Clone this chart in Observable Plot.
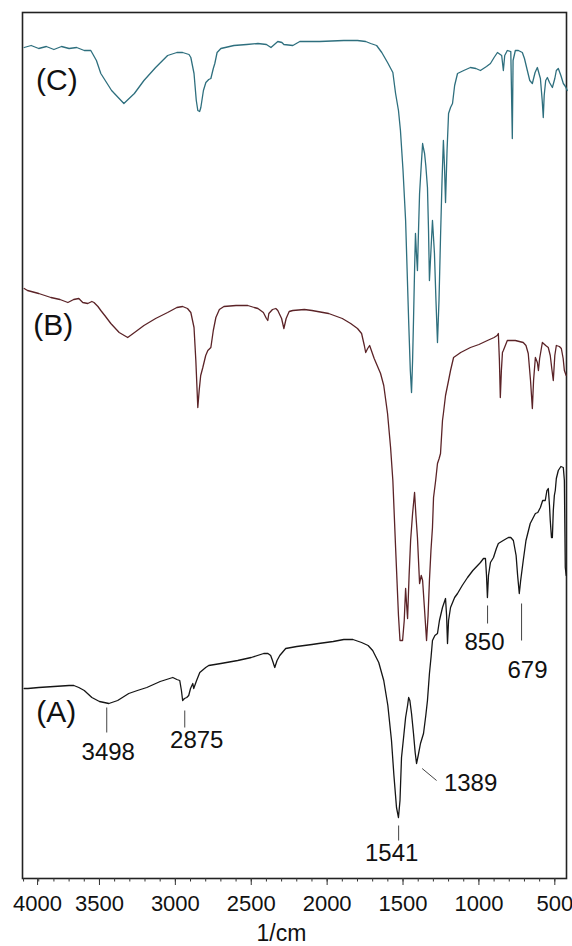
<!DOCTYPE html>
<html><head><meta charset="utf-8">
<script src="https://cdn.jsdelivr.net/npm/d3@7"></script>
<script src="https://cdn.jsdelivr.net/npm/@observablehq/plot@0.6"></script>
<style>body{margin:0;background:#fff;} #chart svg{display:block}</style>
</head><body><div id="chart"></div><script>
// Wavenumbers (1/cm) and relative transmittance (arbitrary units)
const cWn = [3996,3950,3900,3850,3800,3750,3700,3650,3600,3557,3520,3491,3420,3339,3270,3207,3130,3051,2990,2952,2910,2898,2877,2862,2852,2840,2832,2815,2799,2780,2766,2750,2740,2725,2700,2614,2530,2456,2400,2380,2370,2340,2325,2298,2285,2226,2180,2050,1890,1800,1746,1713,1674,1640,1602,1567,1549,1530,1517,1500,1483,1463,1452,1444,1437,1431,1424,1418,1411,1405,1398,1391,1380,1371,1365,1358,1350,1339,1332,1326,1316,1306,1300,1293,1283,1273,1263,1253,1243,1234,1227,1220,1210,1200,1187,1174,1160,1141,1100,1056,1020,990,950,924,900,878,850,839,830,813,790,780,775,760,740,714,700,681,665,648,630,615,595,583,576,570,560,549,535,516,500,490,477,460,444,430,418];
const cT  = [831,833,830,832,829,832,830,831,828,828,818,805,788,775,785,798,811,823,826,826,824,821,805,778,768,767,771,788,796,799,800,810,815,826,830,833,834,835,834,832,831,835,837,836,834,833,837,837,838,838,837,835,833,826,816,806,785,768,748,708,658,558,508,486,518,558,608,645,623,608,648,685,713,735,730,725,713,691,648,598,628,658,643,625,578,536,578,641,698,738,713,676,728,765,771,775,793,805,808,811,810,808,812,815,821,826,823,808,823,828,827,740,818,828,828,826,820,808,798,795,806,811,800,778,761,783,798,801,796,791,800,808,810,803,795,792,788];

const bWn = [3996,3974,3900,3820,3760,3708,3670,3636,3610,3577,3550,3536,3510,3491,3460,3425,3370,3314,3260,3207,3130,3051,2990,2952,2920,2898,2877,2865,2852,2843,2833,2819,2800,2786,2766,2750,2733,2710,2680,2600,2523,2480,2456,2420,2400,2391,2384,2360,2338,2325,2300,2285,2270,2250,2226,2150,2100,1990,1900,1845,1800,1773,1755,1746,1733,1720,1690,1648,1627,1602,1582,1567,1549,1530,1520,1510,1503,1492,1483,1476,1470,1460,1450,1437,1424,1415,1405,1391,1380,1371,1360,1345,1335,1326,1316,1306,1299,1285,1273,1262,1253,1240,1234,1220,1200,1187,1167,1120,1056,1000,944,900,880,872,865,859,852,845,839,813,760,708,690,675,660,648,640,628,615,608,600,582,560,543,530,520,510,500,490,470,457,445,437,425];
const bT  = [590,588,585,581,579,576,579,580,576,575,577,576,572,568,562,555,546,541,547,553,560,566,571,572,570,566,551,518,471,488,503,511,523,528,531,548,561,569,572,573,573,571,570,566,560,558,565,569,570,568,560,550,560,567,568,569,568,565,560,555,550,545,533,526,530,533,520,505,493,465,431,398,331,263,238,238,238,258,290,273,260,303,338,365,386,363,341,295,303,298,273,238,263,298,328,351,381,398,415,420,425,458,465,483,498,508,521,526,531,534,538,541,543,545,518,481,508,526,528,538,538,536,533,525,498,470,498,521,516,508,520,536,533,531,523,510,498,523,533,532,530,520,508,503];

const aWn = [3996,3971,3900,3800,3700,3669,3636,3600,3550,3500,3438,3380,3307,3250,3188,3100,3017,2990,2971,2960,2952,2940,2925,2912,2900,2885,2879,2860,2839,2800,2780,2700,2589,2500,2418,2390,2372,2360,2345,2330,2312,2273,2200,2100,2056,1960,1890,1830,1773,1730,1700,1660,1627,1600,1576,1560,1543,1530,1520,1510,1495,1483,1470,1463,1455,1444,1431,1420,1411,1400,1385,1375,1365,1350,1339,1326,1315,1306,1290,1273,1260,1240,1220,1213,1207,1200,1187,1160,1141,1110,1075,1040,990,970,957,950,944,937,924,904,885,872,840,806,790,773,755,745,734,725,708,690,662,645,628,612,595,580,563,552,543,535,530,522,516,510,503,497,490,477,460,444,437,431,425];
const aT  = [190,190,191,192,193,193,191,188,181,177,175,178,185,188,191,197,201,199,198,188,178,180,181,183,190,195,190,198,206,211,213,215,218,221,225,225,223,218,211,218,223,230,232,234,235,237,239,239,236,233,228,216,198,173,138,103,71,61,78,121,143,161,173,181,178,165,145,126,115,123,135,140,145,163,178,205,222,238,243,245,258,271,280,263,235,258,271,281,285,293,301,308,316,320,320,303,281,303,316,321,330,335,338,341,341,338,323,303,285,298,318,338,355,360,365,366,371,378,378,388,390,373,358,341,341,368,383,388,400,408,412,411,398,311,303];

const xTicks = [4000,3500,3000,2500,2000,1500,1000,500];
const xMinorTicks = d3.range(500, 4001, 100);

const panelNames = ["(A)","(B)","(C)"];
const panelWn = [3784, 3804, 3781];
const panelT  = [166, 553, 798];

const peakNames = ["3498","2875","1541","1389","850","679"];
const peakLabelWn = [3442, 2859, 1575, 1055, 963, 680];
const peakLabelT  = [126, 138, 25, 95, 236, 208];
const peakLineWn1 = [3452, 2938, 1529, 1374, 943, 719];
const peakLineT1  = [171, 168, 53, 110, 273, 275];
const peakLineWn2 = [3452, 2938, 1529, 1279, 943, 719];
const peakLineT2  = [146, 151, 38, 98, 255, 238];

const toRows = (w, t) => w.map((d, i) => ({wn: d, t: t[i]}));
const panels = panelNames.map((n, i) => ({n, wn: panelWn[i], t: panelT[i]}));
const peaks = peakNames.map((n, i) => ({n, wn: peakLabelWn[i], t: peakLabelT[i],
  x1: peakLineWn1[i], y1: peakLineT1[i], x2: peakLineWn2[i], y2: peakLineT2[i]}));

const axisStyle = {tickSize: 7, tickPadding: 10, fontSize: 22, tickFormat: d => String(d), label: null, stroke: "#333", fill: "#111"};

const chart = Plot.plot({
  width: 572, height: 946,
  marginLeft: 22, marginRight: 6, marginTop: 12, marginBottom: 68,
  style: {fontFamily: "'Liberation Sans', Arial, sans-serif", background: "#fff", color: "#111"},
  x: {domain: [4007, 423]},
  y: {domain: [0, 866], axis: null},
  marks: [
    Plot.frame({stroke: "#222", strokeWidth: 1.6}),
    Plot.axisX(xMinorTicks, {tickSize: 3.5, tickFormat: () => "", label: null, stroke: "#333"}),
    Plot.axisX(xTicks.slice(1), axisStyle),
    Plot.axisX(xTicks.slice(0, 1), {...axisStyle, dx: 14}),
    Plot.text(["1/cm"], {frameAnchor: "bottom", dx: -13, dy: 55, fontSize: 23, fill: "#111", lineAnchor: "middle"}),
    Plot.line(toRows(cWn, cT), {x: "wn", y: "t", stroke: "#2e6f7e", strokeWidth: 1.3}),
    Plot.line(toRows(bWn, bT), {x: "wn", y: "t", stroke: "#5b2327", strokeWidth: 1.3}),
    Plot.line(toRows(aWn, aT), {x: "wn", y: "t", stroke: "#151515", strokeWidth: 1.3}),
    Plot.text(panels, {x: "wn", y: "t", text: "n", fontSize: 30, fill: "#111", lineAnchor: "middle"}),
    Plot.link(peaks, {x1: "x1", y1: "y1", x2: "x2", y2: "y2", stroke: "#444", strokeWidth: 1}),
    Plot.text(peaks, {x: "wn", y: "t", text: "n", fontSize: 24, fill: "#111", lineAnchor: "middle"})
  ]
});
document.getElementById("chart").append(chart);
</script></body></html>
